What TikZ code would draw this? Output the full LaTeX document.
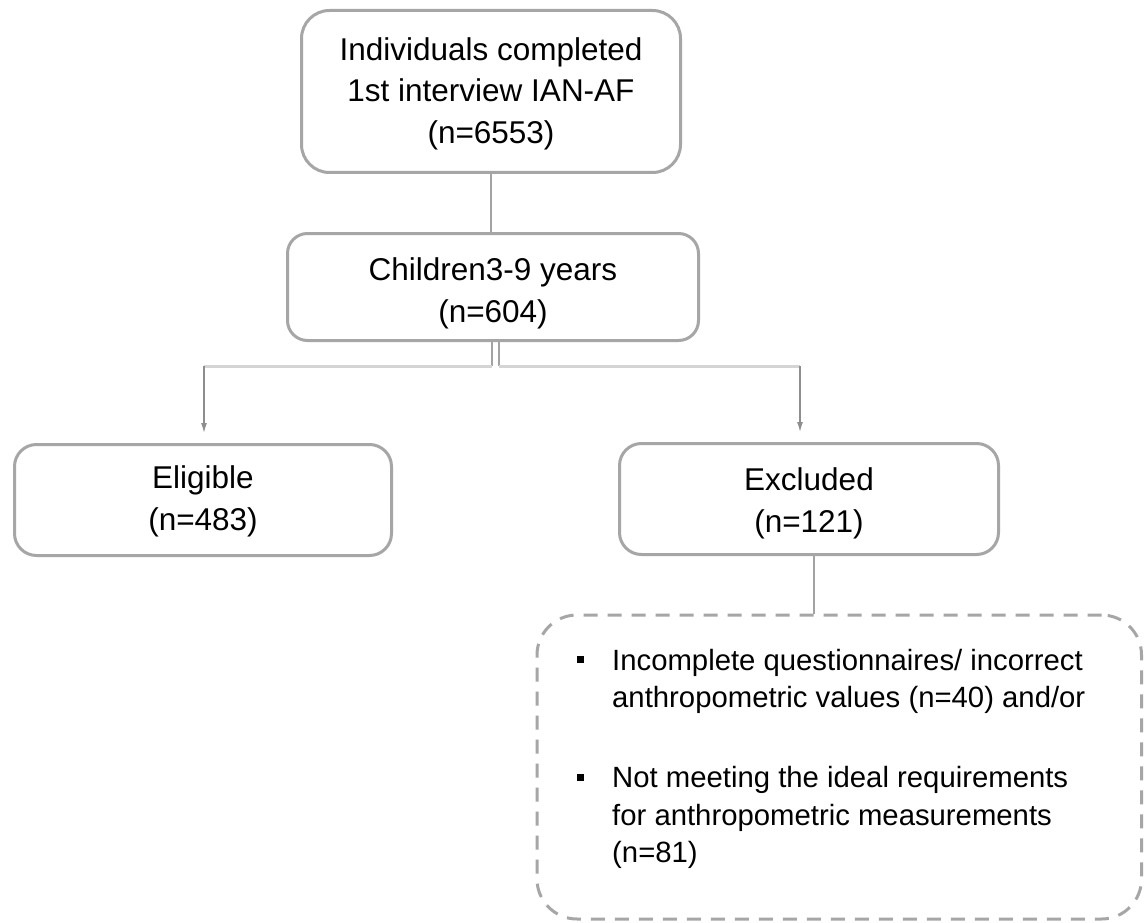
\documentclass[tikz,border=0pt]{standalone}
\usepackage{fontspec}
\setmainfont{Liberation Sans}
\usetikzlibrary{arrows.meta}
\definecolor{boxgray}{HTML}{A6A6A6}
\definecolor{linegray}{HTML}{A3A3A3}
\definecolor{hgray}{HTML}{D4D4D4}
\definecolor{arrgray}{HTML}{8E8E8E}
\newcommand{\topst}[1]{\rule{0pt}{#1pt}}
\newcommand{\sqbullet}{\makebox[35.5pt][l]{\rule[7pt]{7pt}{7pt}}}
\begin{document}
\begin{tikzpicture}[x=1pt,y=-1pt,
  box/.style={draw=boxgray, line width=3pt, rounded corners=#1, align=center,
    inner sep=0pt, font=\fontsize{31.5}{42}\selectfont},
  dashbox/.style={draw=boxgray, line width=3pt, rounded corners=40pt,
    dash pattern=on 14pt off 10pt, inner sep=0pt},
  conn/.style={draw=linegray, line width=2.5pt},
  dbl/.style={draw=linegray, line width=2pt},
  hline/.style={draw=hgray, line width=3pt},
  arr/.style={draw=arrgray, line width=1.3pt, -{Latex[length=10pt,width=6pt]}, shorten >=10pt},
  listtext/.style={anchor=base west, inner sep=0pt, font=\fontsize{29.3}{37.5}\selectfont}]
\fill[white] (0,0) rectangle (1144,923);
\useasboundingbox (0,0) rectangle (1144,923);

\node[box=28pt, minimum width=379pt, minimum height=162pt, font=\fontsize{31.5}{41.5}\selectfont] (top) at (491,91.5)
  {\topst{26.7}Individuals completed\\1st interview IAN-AF\\(n=6553)};
\node[box=20pt, minimum width=411pt, minimum height=107pt] (children) at (493,287)
  {\topst{34.7}Children3-9 years\\(n=604)};
\node[box=22pt, minimum width=377pt, minimum height=111pt] (eligible) at (203,500)
  {\topst{24.7}Eligible\\(n=483)};
\node[box=22pt, minimum width=379pt, minimum height=111pt] (excluded) at (809,499)
  {\topst{30.7}Excluded\\(n=121)};
\node[dashbox, minimum width=604.5pt, minimum height=304pt] (dashed) at (839.25,767) {};

\node[listtext] (list) at (576.5,670) {\parbox[t]{560pt}{%
  \hangindent=35.5pt \hangafter=1 \sqbullet Incomplete questionnaires/ incorrect\newline anthropometric values (n=40) and/or\par
  \vspace{42.5pt}%
  \hangindent=35.5pt \hangafter=1 \sqbullet Not meeting the ideal requirements\newline for anthropometric measurements\newline (n=81)}};

% connectors
\draw[conn] (top.south) -- (top.south |- children.north);
\coordinate (dl) at (492,366);
\coordinate (dr) at (499,366);
\coordinate (jl) at (204,366);
\coordinate (jr) at (800,366);
\draw[dbl] (dl |- children.south) -- (dl);
\draw[dbl] (dr |- children.south) -- (dr);
\draw[hline] (dl) -- (jl);
\draw[hline] (dr) -- (jr);
\draw[arr] (jl) -- (jl |- eligible.north);
\draw[arr] (jr) -- (jr |- excluded.north);
\coordinate (ec) at (814,600);
\draw[conn] (excluded.south -| ec) -- (ec |- dashed.north);
\end{tikzpicture}
\end{document}
